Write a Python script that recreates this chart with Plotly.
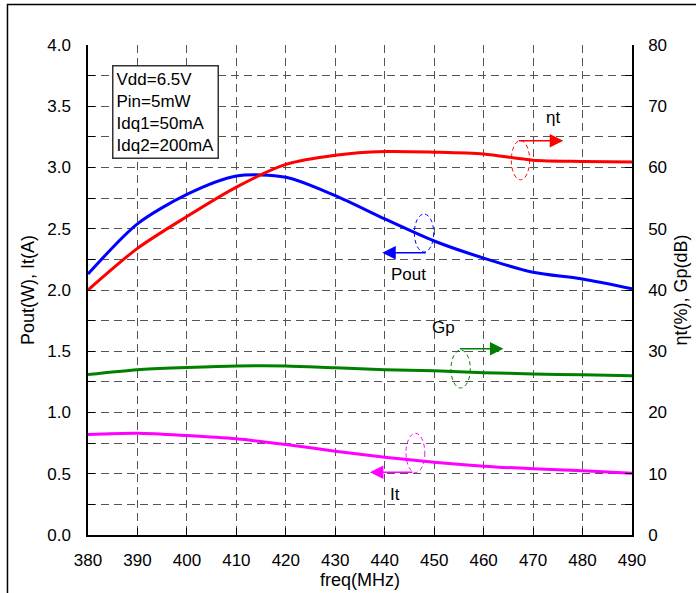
import plotly.graph_objects as go

# ---- data ----
freq = [380, 390, 400, 410, 420, 430, 440, 450, 460, 470, 480, 490]
pout = [2.13, 2.54, 2.78, 2.93, 2.92, 2.77, 2.58, 2.40, 2.26, 2.145, 2.09, 2.01]
it_a = [0.82, 0.831, 0.812, 0.785, 0.739, 0.684, 0.635, 0.594, 0.562, 0.540, 0.524, 0.505]
eta = [40.0, 46.8, 52.0, 56.8, 60.5, 62.0, 62.6, 62.5, 62.2, 61.2, 61.0, 60.9]
gp = [26.2, 27.0, 27.35, 27.6, 27.6, 27.3, 27.0, 26.8, 26.5, 26.3, 26.15, 26.0]

x_ticks = [380, 390, 400, 410, 420, 430, 440, 450, 460, 470, 480, 490]
y_left_ticks = [0.0, 0.5, 1.0, 1.5, 2.0, 2.5, 3.0, 3.5, 4.0]
y_right_ticks = [0, 10, 20, 30, 40, 50, 60, 70, 80]

cond_text = "Vdd=6.5V<br>Pin=5mW<br>Idq1=50mA<br>Idq2=200mA"

FONT = "Liberation Sans, Arial, sans-serif"
GRID = "#555555"

fig = go.Figure()
fig.add_trace(go.Scatter(x=freq, y=pout, mode="lines", name="Pout",
                         line=dict(color="#0000ff", width=3, shape="spline", smoothing=0.8)))
fig.add_trace(go.Scatter(x=freq, y=it_a, mode="lines", name="It",
                         line=dict(color="#ff00ff", width=3, shape="spline", smoothing=0.8)))
fig.add_trace(go.Scatter(x=freq, y=eta, mode="lines", name="ηt", yaxis="y2",
                         line=dict(color="#ff0000", width=3, shape="spline", smoothing=0.8)))
fig.add_trace(go.Scatter(x=freq, y=gp, mode="lines", name="Gp", yaxis="y2",
                         line=dict(color="#008000", width=3, shape="spline", smoothing=0.8)))

# dashed ellipses marking each curve
ellipses = [
    ("#ff0000", 465.6, 469.3, 2.90, 3.22),
    ("#0000ff", 446.0, 449.9, 2.31, 2.62),
    ("#008000", 453.4, 457.3, 1.20, 1.51),
    ("#ff00ff", 444.3, 448.1, 0.51, 0.83),
]
shapes = []
for c, x0, x1, y0, y1 in ellipses:
    shapes.append(dict(type="circle", xref="x", yref="y", x0=x0, x1=x1, y0=y0, y1=y1,
                       line=dict(color=c, width=1, dash="4px,3px"), layer="above"))
# outer frame
shapes.append(dict(type="rect", xref="paper", yref="paper", x0=-0.148, x1=1.5, y0=-0.5, y1=1.0827,
                   line=dict(color="black", width=1.5), fillcolor="rgba(0,0,0,0)", layer="below"))

annotations = []
# arrows (head x, tail x, y)
arrows = [
    ("#ff0000", 476.1, 466.8, 3.218),
    ("#0000ff", 439.5, 448.6, 2.304),
    ("#008000", 464.0, 454.9, 1.520),
    ("#ff00ff", 437.0, 445.9, 0.513),
]
for c, xh, xt, yv in arrows:
    annotations.append(dict(x=xh, y=yv, ax=xt, ay=yv, xref="x", yref="y", axref="x", ayref="y",
                            text="", showarrow=True, arrowhead=2, arrowsize=1.8, arrowwidth=1.5,
                            arrowcolor=c, standoff=0, startstandoff=0))
labels = [("ηt", 474.1, 3.408), ("Pout", 444.8, 2.127), ("Gp", 451.95, 1.696), ("It", 442.0, 0.331)]
for t, xv, yv in labels:
    annotations.append(dict(x=xv, y=yv, xref="x", yref="y", text=t, showarrow=False,
                            font=dict(family=FONT, size=17, color="black")))
annotations.append(dict(x=0.0445, y=0.9596, xref="paper", yref="paper", xanchor="left", yanchor="top",
                        text=cond_text, align="left", showarrow=False, bgcolor="white",
                        bordercolor="#333333", borderwidth=1.5, borderpad=3,
                        font=dict(family=FONT, size=17, color="black")))

fig.update_layout(
    width=696, height=593,
    margin=dict(l=88, r=64, t=45, b=58, autoexpand=False),
    paper_bgcolor="white", plot_bgcolor="white",
    showlegend=False,
    font=dict(family=FONT, size=17, color="black"),
    shapes=shapes, annotations=annotations,
    xaxis=dict(range=[380, 490], tickvals=x_ticks, ticks="inside", ticklen=7, tickcolor="black",
               showline=True, linecolor="black", linewidth=1.5, automargin=False,
               showgrid=True, gridcolor=GRID, gridwidth=1, griddash="8px,5px",
               zeroline=False, ticklabelstandoff=9,
               title=dict(text="freq(MHz)", font=dict(size=18), standoff=0)),
    yaxis=dict(range=[0, 4], tickvals=y_left_ticks, tickformat=".1f", ticks="inside", ticklen=7,
               tickcolor="black", showline=True, linecolor="black", linewidth=1.5, automargin=False,
               showgrid=True, gridcolor=GRID, gridwidth=1, griddash="8px,5px", zeroline=False,
               minor=dict(dtick=0.25, tick0=0, ticks="inside", ticklen=7, tickcolor="black",
                          showgrid=True, gridcolor=GRID, gridwidth=1, griddash="8px,5px"),
               ticklabelstandoff=12,
               title=dict(text="Pout(W), It(A)", font=dict(size=18), standoff=8)),
    yaxis2=dict(range=[0, 80], tickvals=y_right_ticks, overlaying="y", side="right",
                ticks="inside", ticklen=7, tickcolor="black", showline=True, linecolor="black",
                linewidth=1.5, showgrid=False, zeroline=False, automargin=False,
                minor=dict(dtick=5, tick0=0, ticks="inside", ticklen=7, tickcolor="black"),
                ticklabelstandoff=11,
                title=dict(text="ηt(%), Gp(dB)", font=dict(size=18), standoff=8)),
)

fig.write_html("out.html")
